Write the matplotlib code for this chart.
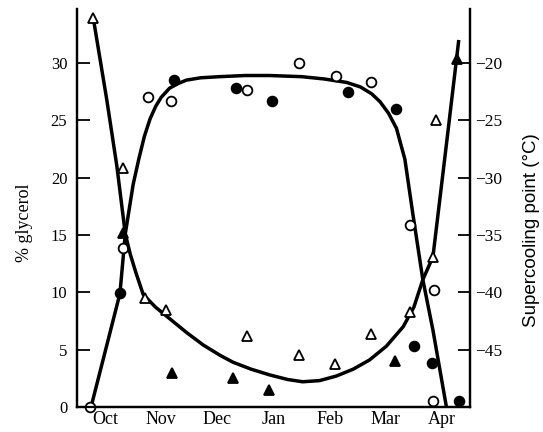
import matplotlib
matplotlib.use("Agg")
import matplotlib.pyplot as plt
from matplotlib.ticker import FixedLocator

# x positions are in months since 1 October
months = ["Oct", "Nov", "Dec", "Jan", "Feb", "Mar", "Apr"]

# Glycerol (%), open circles
gly_open_x = [0.24, 0.82, 1.27, 1.68, 3.02, 3.96, 4.62, 5.24, 5.94, 6.35, 6.34]
gly_open_y = [0.0, 13.9, 27.0, 26.7, 27.6, 30.0, 28.9, 28.3, 15.9, 10.2, 0.55]
# Glycerol (%), filled circles
gly_fill_x = [0.765, 1.73, 2.84, 3.48, 4.83, 5.69, 6.00, 6.33, 6.80]
gly_fill_y = [9.9, 28.5, 27.8, 26.7, 27.5, 26.0, 5.3, 3.85, 0.55]
# Glycerol fitted curve
gly_curve_x = [0.25, 0.50, 0.765, 0.86, 1.00, 1.10, 1.20, 1.30, 1.40, 1.50, 1.65, 1.80, 1.95,
               2.20, 2.54, 3.00, 3.43, 4.00, 4.40, 4.80, 5.05, 5.25, 5.40, 5.55, 5.69,
               5.84, 5.98, 6.16, 6.34, 6.58]
gly_curve_y = [0.0, 4.8, 9.9, 15.1, 19.4, 21.6, 23.6, 25.1, 26.2, 27.0, 27.8, 28.2, 28.5,
               28.7, 28.8, 28.9, 28.9, 28.8, 28.6, 28.3, 27.9, 27.3, 26.6, 25.6, 24.3,
               21.6, 16.9, 11.1, 6.7, 0.0]

# Supercooling point (deg C), open triangles
sc_open_x = [0.29, 0.82, 1.21, 1.58, 3.02, 3.96, 4.59, 5.23, 5.93, 6.34, 6.40]
sc_open_y = [-16.1, -29.2, -40.5, -41.5, -43.85, -45.5, -46.25, -43.6, -41.7, -36.9, -25.0]
# Supercooling point (deg C), filled triangles
sc_fill_x = [0.82, 1.70, 2.78, 3.42, 5.66, 6.77]
sc_fill_y = [-34.8, -47.0, -47.5, -48.5, -46.0, -19.7]
# Supercooling fitted curve
sc_curve_x = [0.29, 0.53, 0.71, 0.86, 0.95, 1.05, 1.18, 1.40, 1.65, 1.95, 2.25, 2.55, 2.78,
              3.10, 3.43, 3.75, 4.02, 4.32, 4.62, 4.92, 5.21, 5.51, 5.81, 6.00, 6.16,
              6.34, 6.58, 6.80]
sc_curve_y = [-16.1, -23.2, -29.0, -34.9, -36.7, -38.3, -40.2, -41.3, -42.3, -43.5, -44.6,
              -45.5, -46.1, -46.7, -47.2, -47.6, -47.8, -47.7, -47.3, -46.7, -45.9, -44.7,
              -43.0, -41.3, -38.9, -36.9, -27.1, -18.0]

W, H = 543, 432
fig = plt.figure(figsize=(W / 100, H / 100), dpi=100)
x0, x1, yb, yt = 77, 470, 407, 9
ax = fig.add_axes([x0 / W, 1 - yb / H, (x1 - x0) / W, (yb - yt) / H])
ax2 = ax.twinx()

ytop = (yb - yt) / 11.47
ax.set_ylim(0, ytop)
ax2.set_ylim(-50, -50 + ytop)
ax.set_xlim(0, 7)

serif = "Liberation Serif"
lw_curve = 2.5

ax.plot(gly_curve_x, gly_curve_y, color="black", lw=lw_curve, solid_capstyle="butt",
        solid_joinstyle="round", zorder=3)
ax2.plot(sc_curve_x, sc_curve_y, color="black", lw=lw_curve, solid_capstyle="butt",
         solid_joinstyle="round", zorder=3)

ax.plot(gly_open_x, gly_open_y, "o", ms=7, mfc="white", mec="black", mew=1.3, zorder=4, clip_on=False)
ax.plot(gly_fill_x, gly_fill_y, "o", ms=7, mfc="black", mec="black", mew=1.3, zorder=4, clip_on=False)
ax2.plot(sc_open_x, sc_open_y, "^", ms=7.5, mfc="white", mec="black", mew=1.3, zorder=4, clip_on=False)
ax2.plot(sc_fill_x, sc_fill_y, "^", ms=7.5, mfc="black", mec="black", mew=1.3, zorder=4, clip_on=False)

for a in (ax, ax2):
    a.spines["top"].set_visible(False)
    for s in ("left", "right", "bottom"):
        a.spines[s].set_linewidth(1.6)

# left axis
ax.set_yticks([0, 5, 10, 15, 20, 25, 30])
ax.tick_params(axis="y", direction="in", length=9, width=1.3, pad=7, labelsize=12)
for t in ax.get_yticklabels():
    t.set_fontfamily(serif)
ax.set_ylabel("% glycerol", fontsize=13, family=serif)
ax.yaxis.set_label_coords(-0.112, 0.462)

# right axis
rt = [-45, -40, -35, -30, -25, -20]
ax2.set_yticks(rt)
ax2.set_yticklabels(["\u2212" + str(abs(v)) for v in rt], family=serif)
ax2.tick_params(axis="y", direction="in", length=9, width=1.3, pad=4, labelsize=12.5)
ax2.set_ylabel("Supercooling point (\u00b0C)", fontsize=13.5, family="Liberation Sans")
ax2.yaxis.set_label_coords(1.135, 0.445)

# bottom axis
ax.xaxis.set_major_locator(FixedLocator([1, 2, 3, 4, 5, 6]))
ax.xaxis.set_minor_locator(FixedLocator([0.5 + i for i in range(len(months))]))
ax.tick_params(axis="x", which="major", direction="in", length=9, width=1.3, labelbottom=False)
ax.tick_params(axis="x", which="minor", length=0, pad=3, labelsize=13)
ax.set_xticklabels(months, minor=True, family=serif)
ax2.set_xticks([])

fig.savefig("out.png", dpi=100)
